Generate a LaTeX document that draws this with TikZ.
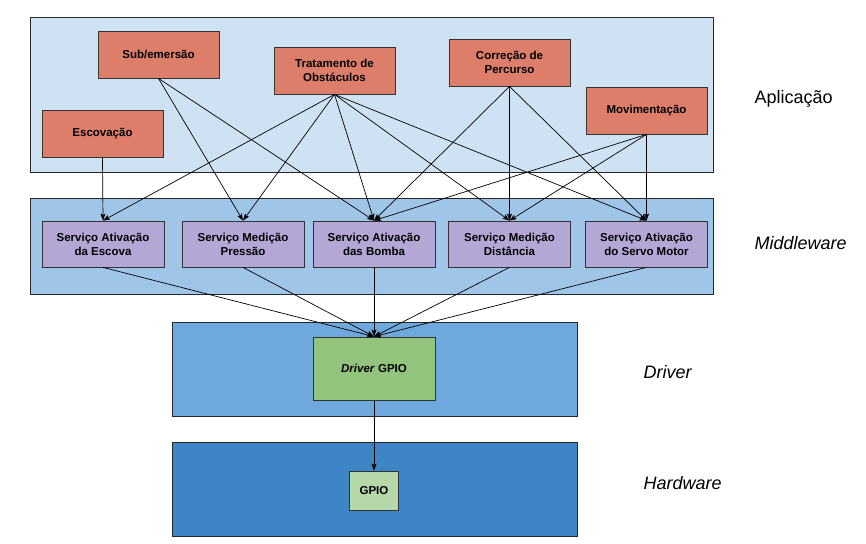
\documentclass[tikz,border=0pt]{standalone}
\usepackage{fontspec}
\setmainfont{Liberation Sans}
\usetikzlibrary{arrows.meta}
\definecolor{appfill}{HTML}{CFE2F3}
\definecolor{midfill}{HTML}{9FC5E8}
\definecolor{drvfill}{HTML}{6FA8DC}
\definecolor{hwfill}{HTML}{3D85C6}
\definecolor{appbox}{HTML}{DD7E6B}
\definecolor{midbox}{HTML}{B4A7D6}
\definecolor{drvbox}{HTML}{93C47D}
\definecolor{hwbox}{HTML}{B6D7A8}
\begin{document}
\begin{tikzpicture}[x=1pt, y=-1pt,
    layer/.style={draw=black!85, line width=0.8pt},
    blk/.style={draw=black!80, line width=0.8pt, align=center, inner sep=2pt,
        font=\bfseries\fontsize{11.5}{14}\selectfont},
    appnode/.style={blk, fill=appbox, minimum width=121pt, minimum height=47pt},
    midnode/.style={blk, fill=midbox, minimum width=122pt, minimum height=46pt},
    tag/.style={anchor=west, font=\fontsize{18}{20}\selectfont},
    link/.style={draw=black, line width=0.7pt, -{Stealth[length=7pt,width=5pt,inset=1.5pt]}}]
    \useasboundingbox (0,0) rectangle (866,543);
    \draw[layer, fill=appfill] (30,17) rectangle (713,172);
    \draw[layer, fill=midfill] (30,198) rectangle (713,294);
    \draw[layer, fill=drvfill] (172,322) rectangle (577,416);
    \draw[layer, fill=hwfill] (172,442) rectangle (577,536);
    \node[appnode] (sub) at (158.5,54.5) {Sub/emersão};
    \node[appnode] (trat) at (334.5,70.5) {Tratamento de\\Obstáculos};
    \node[appnode] (esc) at (102.5,134) {Escovação};
    \node[appnode] (corr) at (509.5,62.5) {Correção de\\Percurso};
    \node[appnode] (mov) at (646.5,110.5) {Movimentação};
    \node[midnode] (escova) at (103,244) {Serviço Ativação\\da Escova};
    \node[midnode] (pressao) at (243,244) {Serviço Medição\\Pressão};
    \node[midnode] (bomba) at (374,244) {Serviço Ativação\\das Bomba};
    \node[midnode] (dist) at (509.5,244) {Serviço Medição\\Distância};
    \node[midnode] (servo) at (646.5,244) {Serviço Ativação\\do Servo Motor};
    \node[blk, fill=drvbox, minimum width=122pt, minimum height=63pt] (dgpio) at (374,368.5) {\textit{Driver} GPIO};
    \node[blk, fill=hwbox, minimum width=49pt, minimum height=39pt] (gpio) at (374,490.5) {GPIO};
    \node[tag] (lapp) at (751,99) {Aplicação};
    \node[tag] (lmid) at (751,243) {\textit{Middleware}};
    \node[tag] (ldrv) at (640,372) {\textit{Driver}};
    \node[tag] (lhw) at (640,483) {\textit{Hardware}};
    \draw[link] (esc.south) -- (escova.north);
    \draw[link] (sub.south) -- (pressao.north);
    \draw[link] (sub.south) -- (bomba.north);
    \foreach \t in {escova,pressao,bomba,dist,servo}
        \draw[link] (trat.south) -- (\t.north);
    \foreach \t in {bomba,dist,servo}{
        \draw[link] (corr.south) -- (\t.north);
        \draw[link] (mov.south) -- (\t.north);
    }
    \foreach \s in {escova,pressao,bomba,dist,servo}
        \draw[link] (\s.south) -- (dgpio.north);
    \draw[link] (dgpio.south) -- (gpio.north);
\end{tikzpicture}
\end{document}
